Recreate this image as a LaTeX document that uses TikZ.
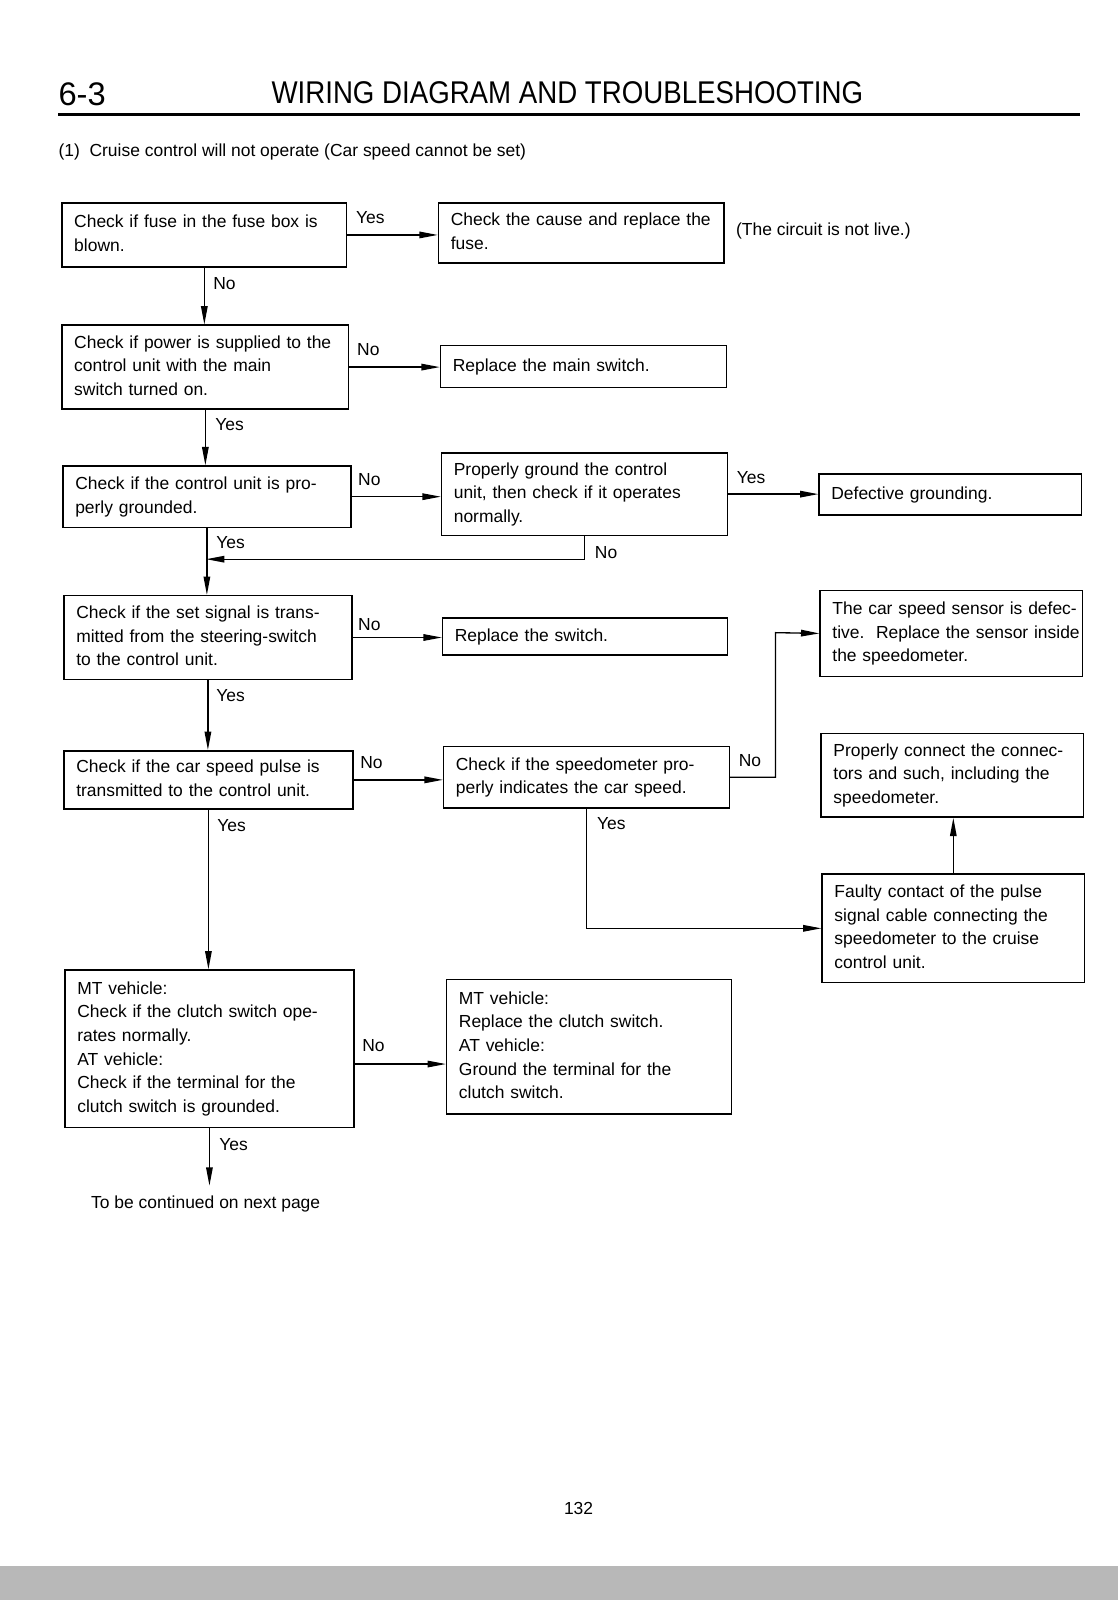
\documentclass[tikz,border=0pt]{standalone}
\usepackage{fontspec}
\setmainfont{Liberation Sans}
\usetikzlibrary{arrows.meta}
\newcommand\bodyfont{\fontsize{8.55}{11.6}\selectfont}
\newcommand\tl[1]{\noindent\begin{tabular}{@{}l@{}}#1\end{tabular}}
\begin{document}
\begin{tikzpicture}[x=0.5pt,y=-0.5pt,
  bx/.style n args={3}{draw, line width=0.75pt, anchor=north west, inner xsep=6pt, inner ysep=0pt,
     align=left, font=\bodyfont, minimum width=#1, text width=#2, minimum height=#3},
  lbl/.style={font=\bodyfont, inner sep=0pt},
  txt/.style={font=\bodyfont, inner sep=0pt, anchor=west},
  arr/.style={line width=0.65pt, -{Triangle[length=9pt,width=3.2pt]}},
  ln/.style={line width=0.65pt}]

\useasboundingbox (0,0) rectangle (1096,1568);
\fill[white] (0,0) rectangle (1096,1568);
\fill[black!28] (0,1535) rectangle (1096,1568);

% header
\node[anchor=west, inner sep=0pt, font=\fontsize{16}{18}\selectfont] (sec) at (57,92) {6-3};
\node[inner sep=0pt, font=\fontsize{15.4}{18}\selectfont] (title) at (556,91) {\scalebox{0.88}[1]{WIRING DIAGRAM AND TROUBLESHOOTING}};
\draw[line width=1.6pt] (57,112) -- (1058,112);
\node[txt] (sub) at (57,149) {(1)\ \ Cruise control will not operate (Car speed cannot be set)};

% boxes
\node[bx={139.5pt}{127.5pt}{31.5pt}] (b1) at (60,198) {\tl{Check if fuse in the fuse box is\\blown.}};
\node[bx={140pt}{128pt}{29.5pt}] (b2) at (429,198) {\tl{Check the cause and replace the\\fuse.}};
\node[txt] (note) at (721,226) {(The circuit is not live.)};
\node[bx={140.5pt}{128.5pt}{41pt}] (b3) at (60,318) {\tl{Check if power is supplied to the\\control unit with the main\\switch turned on.}};
\node[bx={140pt}{128pt}{20.5pt}] (b4) at (431,338) {\tl{Replace the main switch.}};
\node[bx={141pt}{129pt}{30pt}] (b5) at (61,456) {\tl{Check if the control unit is pro-\\perly grounded.}};
\node[bx={140pt}{128pt}{40.5pt}] (b6) at (432,443) {\tl{Properly ground the control\\unit, then check if it operates\\normally.}};
\node[bx={128.5pt}{116.5pt}{20pt}] (b7) at (802,464) {\tl{Defective grounding.}};
\node[bx={141pt}{129pt}{41pt}] (b8) at (62,583) {\tl{Check if the set signal is trans-\\mitted from the steering-switch\\to the control unit.}};
\node[bx={139.5pt}{127.5pt}{18pt}] (b9) at (433,605) {\tl{Replace the switch.}};
\node[bx={128.5pt}{116.5pt}{42pt}] (b10) at (803,578) {\tl{The car speed sensor is defec-\\tive.\ \ Replace the sensor inside\\the speedometer.}};
\node[bx={141.5pt}{129.5pt}{28.5pt}] (b11) at (62,735) {\tl{Check if the car speed pulse is\\transmitted to the control unit.}};
\node[bx={140pt}{128pt}{30pt}] (b12) at (434,731) {\tl{Check if the speedometer pro-\\perly indicates the car speed.}};
\node[bx={128.5pt}{116.5pt}{41pt}] (b13) at (804,718) {\tl{Properly connect the connec-\\tors and such, including the\\speedometer.}};
\node[bx={128.5pt}{116.5pt}{53pt}] (b14) at (805,856) {\tl{Faulty contact of the pulse\\signal cable connecting the\\speedometer to the cruise\\control unit.}};
\node[bx={141.5pt}{129.5pt}{77pt}] (b15) at (63,950) {\tl{MT vehicle:\\Check if the clutch switch ope-\\rates normally.\\AT vehicle:\\Check if the terminal for the\\clutch switch is grounded.}};
\node[bx={139.5pt}{127.5pt}{66pt}] (b16) at (437,959) {\tl{MT vehicle:\\Replace the clutch switch.\\AT vehicle:\\Ground the terminal for the\\clutch switch.}};
\node[txt] (cont) at (89,1180) {To be continued on next page};
\node[lbl] (page) at (567,1478) {132};

% helper coordinates
\coordinate (j1) at (202,548);
\coordinate (k1) at (760,620);
\coordinate (e1) at (204,1162);

% connectors
\draw[arr] (b1.east) -- (b1.east -| b2.west);
\draw[arr] (b1.south) -- (b1.south |- b3.north);
\draw[arr] (b3.east) -- (b3.east -| b4.west);
\draw[arr] (b3.south) -- (b3.south |- b5.north);
\draw[arr] (b5.east) -- (b5.east -| b6.west);
\draw[arr] (b6.east) -- (b6.east -| b7.west);
\draw[arr] (b6.south) |- (j1);
\draw[arr] (b5.south) -- (b5.south |- b8.north);
\draw[arr] (b8.east) -- (b8.east -| b9.west);
\draw[arr] (b8.south) -- (b8.south |- b11.north);
\draw[arr] (b11.east) -- (b11.east -| b12.west);
\draw[arr] (b12.east) -| (k1) -- (b10.west);
\draw[arr] (b12.south) |- (b14.west);
\draw[arr] (b14.north) -- (b14.north |- b13.south);
\draw[arr] (b11.south) -- (b11.south |- b15.north);
\draw[arr] ([yshift=-7.5pt]b15.east) -- ([yshift=-7.5pt]b15.east -| b16.west);
\draw[arr] (b15.south) -- (b15.south |- e1);

% labels
\node[lbl] (l1) at (363,213) {Yes};
\node[lbl] (l2) at (220,278) {No};
\node[lbl] (l3) at (361,343) {No};
\node[lbl] (l4) at (225,416) {Yes};
\node[lbl] (l5) at (362,470) {No};
\node[lbl] (l6) at (736,468) {Yes};
\node[lbl] (l7) at (226,532) {Yes};
\node[lbl] (l8) at (594,542) {No};
\node[lbl] (l9) at (362,612) {No};
\node[lbl] (l10) at (226,682) {Yes};
\node[lbl] (l11) at (364,747) {No};
\node[lbl] (l12) at (735,745) {No};
\node[lbl] (l13) at (599,807) {Yes};
\node[lbl] (l14) at (227,809) {Yes};
\node[lbl] (l15) at (366,1025) {No};
\node[lbl] (l16) at (229,1122) {Yes};
\end{tikzpicture}
\end{document}
